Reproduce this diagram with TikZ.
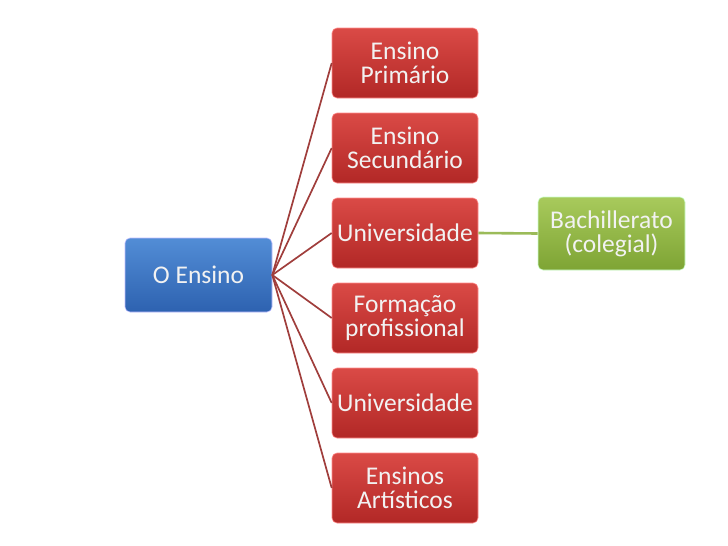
\documentclass[tikz,border=0pt]{standalone}
\usepackage{fontspec}
\setmainfont{Carlito}
\begin{document}
\begin{tikzpicture}[x=1pt,y=-1pt,
  box/.style={rounded corners=5pt, minimum height=70pt, align=center,
    text=white!95!black, font=\fontsize{25.5}{24}\selectfont, inner sep=2pt},
  redbox/.style={box, minimum width=146pt, draw=red!45!white, line width=0.6pt,
    top color={rgb,255:red,218;green,74;blue,70}, bottom color={rgb,255:red,178;green,40;blue,38}},
  bluebox/.style={box, minimum width=147pt, minimum height=74pt, draw=blue!25!white, line width=0.6pt,
    top color={rgb,255:red,82;green,141;blue,214}, bottom color={rgb,255:red,45;green,98;blue,176}},
  greenbox/.style={box, minimum width=147pt, minimum height=73pt, draw=green!20!white, line width=0.6pt,
    top color={rgb,255:red,168;green,202;blue,92}, bottom color={rgb,255:red,126;green,164;blue,52}},
  redline/.style={draw={rgb,255:red,160;green,62;blue,60}, line width=1.7pt},
  greenline/.style={draw={rgb,255:red,155;green,187;blue,89}, line width=2.6pt}
]
\useasboundingbox (0,0) rectangle (728,546);
\node[bluebox] (root) at (198.5,275) {O Ensino};
\node[redbox] (r1) at (405,63) {Ensino\\Primário};
\node[redbox] (r2) at (405,148) {Ensino\\Secundário};
\node[redbox] (r3) at (405,233) {Universidade};
\node[redbox] (r4) at (405,318) {Formação\\profissional};
\node[redbox] (r5) at (405,403) {Universidade};
\node[redbox] (r6) at (405,488) {Ensinos\\Artísticos};
\node[greenbox] (g) at (611.5,233.5) {Bachillerato\\(colegial)};
\foreach \n in {r1,r2,r3,r4,r5,r6} \draw[redline] (root.east) -- (\n.west);
\draw[greenline] (r3.east) -- (g.west);
\end{tikzpicture}
\end{document}
